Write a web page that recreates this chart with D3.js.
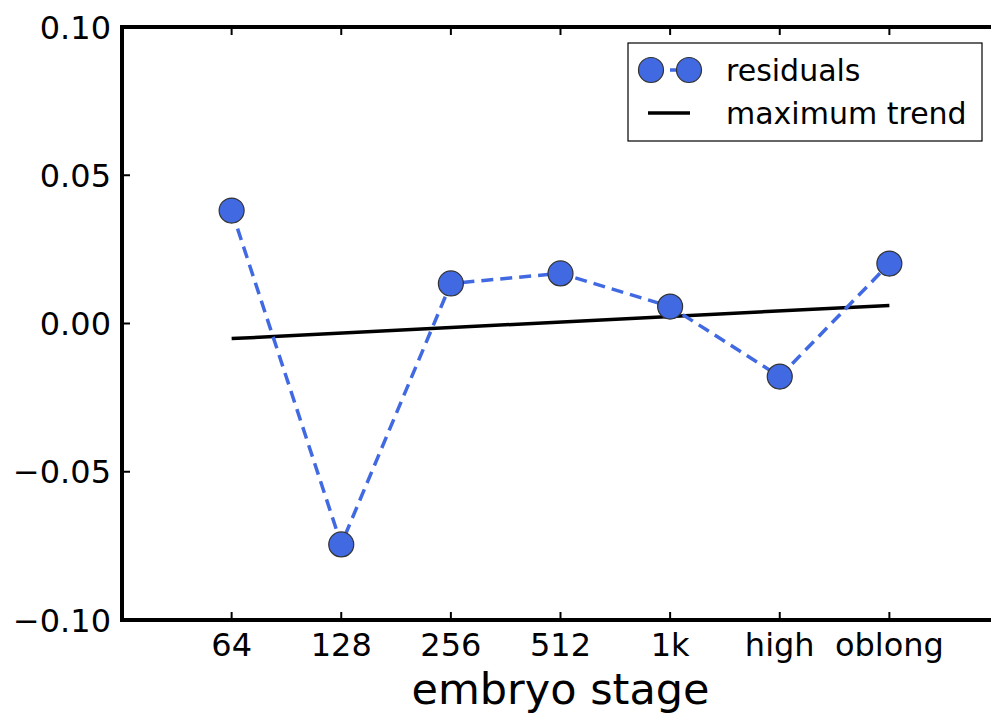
<!DOCTYPE html>
<html>
<head>
<meta charset="utf-8">
<script src="https://cdn.jsdelivr.net/npm/d3@7"></script>
<style>
  body { margin: 0; background: #fff; }
  text { font-family: "DejaVu Sans", sans-serif; fill: #000; }
</style>
</head>
<body>
<script>
// data
var stages = ['64', '128', '256', '512', '1k', 'high', 'oblong'];
var residuals = [0.0381, -0.0745, 0.0135, 0.0169, 0.0057, -0.0179, 0.0202];
var trend = [-0.0051, 0.0061];   // value at first and last stage
var yTicks = [-0.10, -0.05, 0.00, 0.05, 0.10];

var W = 991, H = 715;
var mLeft = 122, mRight = 999, mTop = 27, mBottom = 620;

var svg = d3.select('body').append('svg').attr('width', W).attr('height', H);

var x = d3.scaleLinear().domain([-1, stages.length]).range([mLeft, mRight]);
var y = d3.scaleLinear().domain([-0.10, 0.10]).range([mBottom, mTop]);

/***********************************************************************************/
// ticks (inside, all four sides)
var tl = 8;
var g = svg.append('g').attr('stroke', '#000').attr('stroke-width', 2);
stages.forEach(function(s, i){
  g.append('line').attr('x1', x(i)).attr('x2', x(i)).attr('y1', mBottom).attr('y2', mBottom - tl);
  g.append('line').attr('x1', x(i)).attr('x2', x(i)).attr('y1', mTop).attr('y2', mTop + tl);
});
yTicks.forEach(function(v){
  g.append('line').attr('x1', mLeft).attr('x2', mLeft + tl).attr('y1', y(v)).attr('y2', y(v));
  g.append('line').attr('x1', mRight).attr('x2', mRight - tl).attr('y1', y(v)).attr('y2', y(v));
});

svg.selectAll('.xl').data(stages).enter().append('text')
  .attr('x', function(d, i){ return x(i); })
  .attr('y', mBottom + 36)
  .attr('text-anchor', 'middle')
  .style('font-size', '32px')
  .text(function(d){ return d; });

svg.selectAll('.yl').data(yTicks).enter().append('text')
  .attr('x', mLeft - 11)
  .attr('y', function(d){ return y(d); })
  .attr('dy', '0.36em')
  .attr('text-anchor', 'end')
  .style('font-size', '32px')
  .text(function(d){ return d3.format('.2f')(d).replace('-', '\u2212'); });

svg.append('text')
  .attr('x', (mLeft + mRight) / 2).attr('y', 704)
  .attr('text-anchor', 'middle')
  .style('font-size', '43px')
  .text('embryo stage');

/***********************************************************************************/
// series
var line = d3.line().x(function(d, i){ return x(i); }).y(function(d){ return y(d); });

svg.append('line')
  .attr('x1', x(0)).attr('x2', x(stages.length - 1))
  .attr('y1', y(trend[0])).attr('y2', y(trend[1]))
  .attr('stroke', '#000').attr('stroke-width', 3.5);

svg.append('path').datum(residuals)
  .attr('d', line)
  .attr('fill', 'none')
  .attr('stroke', '#4169e1').attr('stroke-width', 3.5)
  .attr('stroke-dasharray', '12,7');

svg.selectAll('.pt').data(residuals).enter().append('circle')
  .attr('cx', function(d, i){ return x(i); })
  .attr('cy', function(d){ return y(d); })
  .attr('r', 12.5)
  .attr('fill', '#4169e1')
  .attr('stroke', '#333').attr('stroke-width', 1.2);

// frame
svg.append('rect')
  .attr('x', mLeft).attr('y', mTop).attr('width', mRight - mLeft).attr('height', mBottom - mTop)
  .attr('fill', 'none').attr('stroke', '#000').attr('stroke-width', 4);

/***********************************************************************************/
// legend
var lg = svg.append('g').attr('transform', 'translate(628,43)');
lg.append('rect').attr('width', 354).attr('height', 98)
  .attr('fill', '#fff').attr('stroke', '#000').attr('stroke-width', 1.2);
lg.append('line').attr('x1', 23).attr('x2', 61).attr('y1', 27).attr('y2', 27)
  .attr('stroke', '#4169e1').attr('stroke-width', 3.5).attr('stroke-dasharray', '12,7');
[23, 61].forEach(function(cx){
  lg.append('circle').attr('cx', cx).attr('cy', 27).attr('r', 12.5)
    .attr('fill', '#4169e1').attr('stroke', '#333').attr('stroke-width', 1.2);
});
lg.append('line').attr('x1', 20).attr('x2', 62).attr('y1', 70).attr('y2', 70)
  .attr('stroke', '#000').attr('stroke-width', 3.5);
lg.append('text').attr('x', 98).attr('y', 27).attr('dy', '0.36em')
  .style('font-size', '30px').text('residuals');
lg.append('text').attr('x', 98).attr('y', 70).attr('dy', '0.36em')
  .style('font-size', '30px').text('maximum trend');
</script>
</body>
</html>
